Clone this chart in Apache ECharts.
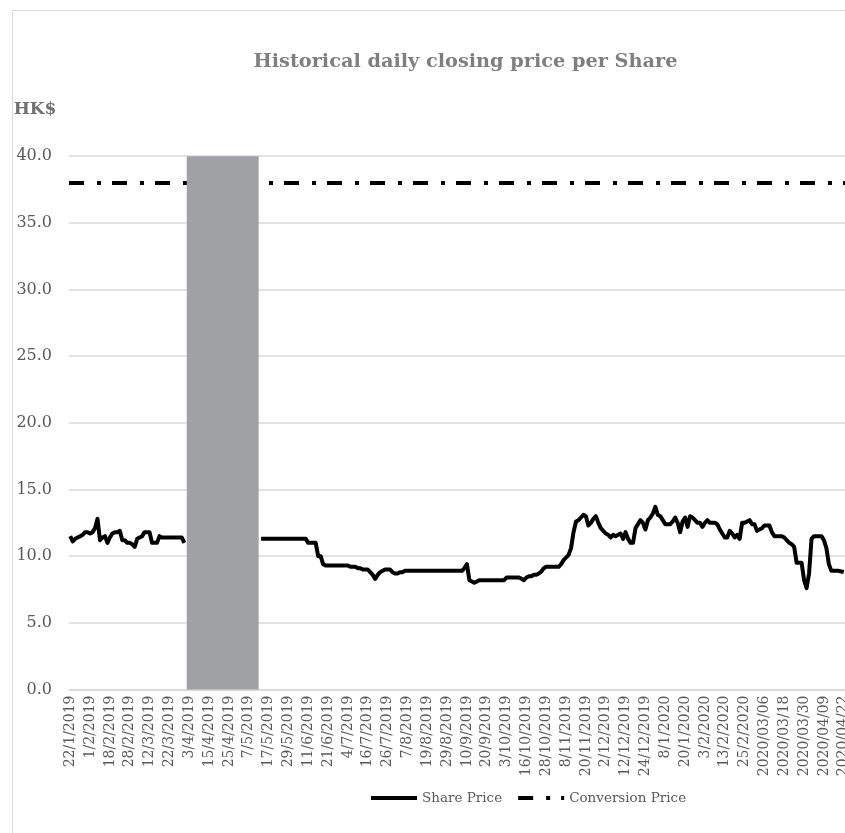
<!DOCTYPE html>
<html>
<head>
<meta charset="utf-8">
<script src="https://cdn.jsdelivr.net/npm/echarts@6/dist/echarts.min.js"></script>
<style>
html,body{margin:0;padding:0;background:#fff;overflow:hidden;}
#chart{width:845px;height:833px;}
</style>
</head>
<body>
<div id="chart"></div>
<script>
// ---- Data ----
const tickLabels = [
  '22/1/2019','1/2/2019','18/2/2019','28/2/2019','12/3/2019','22/3/2019','3/4/2019','15/4/2019',
  '25/4/2019','7/5/2019','17/5/2019','29/5/2019','11/6/2019','21/6/2019','4/7/2019','16/7/2019',
  '26/7/2019','7/8/2019','19/8/2019','29/8/2019','10/9/2019','20/9/2019','3/10/2019','16/10/2019',
  '28/10/2019','8/11/2019','20/11/2019','2/12/2019','12/12/2019','24/12/2019','8/1/2020','20/1/2020',
  '3/2/2020','13/2/2020','25/2/2020','2020/03/06','2020/03/18','2020/03/30','2020/04/09','2020/04/22'
];
const daysPerTick = 8;

// Share price before trading suspension
const priceBeforeSuspension = [
  11.5,11.1,11.3,11.4,11.5,11.6,11.8,11.8,11.7,11.8,
  12.1,12.8,11.2,11.4,11.5,11.0,11.4,11.7,11.8,11.8,
  11.9,11.2,11.2,11.0,11.0,10.9,10.7,11.3,11.4,11.5,
  11.8,11.8,11.8,11.0,11.0,11.0,11.5,11.4,11.4,11.4,
  11.4,11.4,11.4,11.4,11.4,11.4,11.0
];
const suspensionDays = 30;
// Share price after resumption of trading
const priceAfterResumption = [
  11.3,11.3,11.3,11.3,11.3,11.3,11.3,11.3,11.3,11.3,
  11.3,11.3,11.3,11.3,11.3,11.3,11.3,11.3,11.3,
  11.0,11.0,11.0,11.0,
  10.0,10.0,9.4,
  9.3,9.3,9.3,9.3,9.3,9.3,9.3,9.3,9.3,9.3,
  9.2,9.2,9.2,
  9.1,9.1,
  9.0,9.0,9.0,
  8.8,8.6,8.3,8.6,8.8,8.9,9.0,9.0,9.0,8.8,8.7,8.7,8.8,8.8,
  8.9,8.9,8.9,8.9,8.9,8.9,8.9,8.9,8.9,8.9,8.9,8.9,
  8.9,8.9,8.9,8.9,8.9,8.9,8.9,8.9,8.9,8.9,8.9,8.9,
  9.1,9.4,8.2,8.1,8.0,8.1,
  8.2,8.2,8.2,8.2,8.2,8.2,8.2,8.2,8.2,8.2,8.2,
  8.4,8.4,8.4,8.4,8.4,8.4,
  8.3,8.2,8.4,8.5,8.5,8.6,8.6,8.7,8.85,9.1,
  9.2,9.2,9.2,9.2,9.2,9.2,
  9.4,9.7,9.9,10.1,10.6,11.8,12.6,12.7,12.9,13.1,
  13.0,12.3,12.5,12.8,13.0,12.5,12.1,11.9,11.7,11.6,
  11.4,11.6,11.5,11.6,11.7,11.3,11.8,11.3,11.0,11.0,
  12.1,12.4,12.7,12.5,12.0,12.7,12.9,13.2,13.7,13.1,
  13.0,12.7,12.4,12.4,12.4,12.6,12.9,12.5,11.8,12.6,
  12.9,12.2,13.0,12.9,12.7,12.5,12.5,12.2,12.5,12.7,
  12.5,12.5,12.5,12.4,12.0,11.7,11.4,11.4,11.9,11.7,
  11.4,11.6,11.3,12.5,12.5,12.6,12.7,12.4,12.4,11.9,
  12.0,12.1,12.3,12.3,12.3,11.8,11.5,11.5,11.5,11.5,
  11.4,11.2,11.0,10.9,10.7,9.5,9.5,9.5,8.2,7.6,
  8.7,11.3,11.5,11.5,11.5,11.5,11.2,10.6,9.4,8.9,
  8.9,8.9,8.9,8.85,8.8
];
const conversionPrice = 38.0;
const suspensionBarTop = 40.2;

// ---- Build ----
const sharePrice = priceBeforeSuspension
  .concat(new Array(suspensionDays).fill(null))
  .concat(priceAfterResumption);
const categories = sharePrice.map((_, i) => String(i));
const suspStart = priceBeforeSuspension.length;          // first suspended day
const suspEnd = suspStart + suspensionDays - 1;           // last suspended day

const FONT = "'DejaVu Serif', serif";
const chart = echarts.init(document.getElementById('chart'), null, {renderer: 'canvas'});
const DASH = [15, 13, 4, 11];

chart.setOption({
  animation: false,
  backgroundColor: '#ffffff',
  graphic: [{
    type: 'rect', left: 10, top: 8, silent: true,
    shape: {width: 2000, height: 2000},
    style: {fill: 'none', stroke: '#d9d9d9', lineWidth: 1}
  }],
  title: [{
    text: 'Historical daily closing price per Share',
    left: 460.5, top: 47, textAlign: 'center',
    textStyle: {fontFamily: FONT, fontSize: 19.3, fontWeight: 'bold', color: '#7f7f7f'}
  }, {
    text: 'HK$',
    left: 30, top: 96, textAlign: 'center',
    textStyle: {fontFamily: FONT, fontSize: 17, fontWeight: 'bold', color: '#6f6f6f'}
  }],
  legend: {
    data: ['Share Price', 'Conversion Price'],
    left: 364, top: 786,
    itemWidth: 46, itemHeight: 14, itemGap: 14,
    itemStyle: {color: 'rgba(0,0,0,0)', borderColor: 'rgba(0,0,0,0)', borderWidth: 0, opacity: 0},
    lineStyle: {width: 4},
    textStyle: {fontFamily: FONT, fontSize: 13.5, color: '#595959'},
    selectedMode: false
  },
  grid: {left: 69, top: 156.2, right: 0, height: 533.3, containLabel: false, outerBoundsMode: 'none'},
  xAxis: {
    type: 'category',
    data: categories,
    boundaryGap: true,
    axisLine: {lineStyle: {color: '#d9d9d9', width: 1.5}},
    axisTick: {show: false},
    axisLabel: {
      interval: daysPerTick - 1,
      rotate: 90,
      margin: 6,
      fontFamily: FONT, fontSize: 14, color: '#595959',
      formatter: (v, i) => tickLabels[Math.round(i / daysPerTick)] || ''
    },
    splitLine: {show: false}
  },
  yAxis: {
    type: 'value',
    min: 0, max: 40, interval: 5,
    axisLine: {show: false},
    axisTick: {show: false},
    axisLabel: {
      margin: 17,
      fontFamily: FONT, fontSize: 16, color: '#595959',
      formatter: v => v.toFixed(1)
    },
    splitLine: {lineStyle: {color: '#d9d9d9', width: 1.5}}
  },
  series: [{
    name: 'Share Price',
    type: 'line',
    data: sharePrice,
    z: 3,
    showSymbol: false, symbol: 'none',
    connectNulls: false,
    lineStyle: {color: '#000', width: 4, join: 'round'},
    itemStyle: {color: '#000'},
    emphasis: {disabled: true},
    silent: true,
    markArea: {
      silent: true,
      z: 20,
      itemStyle: {color: '#a0a1a5', opacity: 1},
      data: [[{xAxis: suspStart, yAxis: 0}, {xAxis: suspEnd, yAxis: suspensionBarTop}]]
    }
  }, {
    name: 'Conversion Price',
    type: 'line',
    data: [],
    z: 2,
    symbol: 'none',
    lineStyle: {color: '#000', width: 4, type: DASH},
    itemStyle: {color: '#000'},
    silent: true,
    markLine: {
      silent: true,
      z: 5,
      symbol: ['none', 'none'],
      label: {show: false},
      lineStyle: {color: '#000', width: 4, type: DASH},
      data: [{yAxis: conversionPrice}]
    }
  }]
});
</script>
</body>
</html>
